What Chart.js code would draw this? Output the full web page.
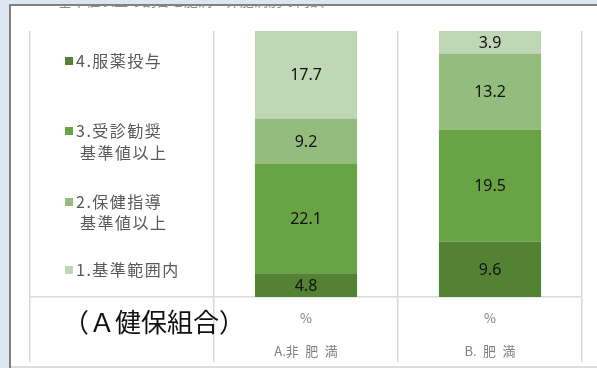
<!DOCTYPE html>
<html>
<head>
<meta charset="utf-8">
<script src="https://cdn.jsdelivr.net/npm/chart.js@4/dist/chart.umd.min.js"></script>
<style>
  html, body { margin: 0; padding: 0; width: 597px; height: 368px; overflow: hidden; background: #dce6f1; }
  #frame { position: absolute; left: 9px; top: 4px; width: 588px; height: 364px; background: #fff;
           border-top: 2px solid #808080; border-left: 2px solid #808080; box-sizing: border-box; }
  #header { position: absolute; left: 58px; top: 5px; width: 300px; height: 4px; overflow: hidden; }
  #header span { position: absolute; left: 0; top: -13px; font: 14px "Noto Sans CJK JP", sans-serif;
                 line-height: 16px; color: #8c8c8c; white-space: nowrap; }
  #wrap { position: absolute; left: 11px; top: 6px; width: 586px; height: 360px; }
  #rule { position: absolute; left: 11px; top: 366px; width: 586px; height: 2px; background: #dcdcdc; }
</style>
</head>
<body>
<div id="frame"></div>
<div id="header"><span>基準値以上の割合と肥満・非肥満別の内訳</span></div>
<div id="wrap"><canvas id="chart"></canvas></div>
<div id="rule"></div>
<script>
// Categories: the first column holds the legend, the other two hold the bars
const categories = ['', ['%', 'A.非\u2002肥\u2002満'], ['%', 'B.\u2002肥\u2002満']];

// Series, stacked bottom to top
const seriesNames = ['4.服薬投与', '3.受診勧奨\n基準値以上', '2.保健指導\n基準値以上', '1.基準範囲内'];
const seriesColors = ['#548235', '#69a444', '#93bc7d', '#bfd7b4'];

// Percentages per group
const valuesA = [4.8, 22.1, 9.2, 17.7];   // A.非肥満
const valuesB = [9.6, 19.5, 13.2, 3.9];   // B. 肥満

const groupTitle = '（Ａ健保組合）';

const sum = arr => arr.reduce((s, v) => s + v, 0);

const datasets = [];
seriesNames.forEach((name, k) => {
  datasets.push({ label: name, data: [null, valuesA[k], null], yAxisID: 'yA',
                  backgroundColor: seriesColors[k], stack: 's' });
  datasets.push({ label: name, data: [null, null, valuesB[k]], yAxisID: 'yB',
                  backgroundColor: seriesColors[k], stack: 's' });
});

// Value labels centred in each segment
const valueLabels = {
  id: 'valueLabels',
  afterDatasetsDraw(chart) {
    const ctx = chart.ctx;
    ctx.save();
    ctx.font = '16px "Noto Sans", sans-serif';
    ctx.fillStyle = '#111111';
    ctx.textAlign = 'center';
    ctx.textBaseline = 'middle';
    chart.data.datasets.forEach((ds, i) => {
      const meta = chart.getDatasetMeta(i);
      meta.data.forEach((el, j) => {
        const v = ds.data[j];
        if (v === null || v === undefined) return;
        ctx.fillText(v.toFixed(1), el.x, (el.y + el.base) / 2 + 1);
      });
    });
    ctx.restore();
  }
};

// Legend and group title in the first column
const sideText = {
  id: 'sideText',
  afterDraw(chart) {
    const ctx = chart.ctx;
    const area = chart.chartArea;
    ctx.save();

    // legend, top item is the top of the stack
    const rows = [[30], [100, 122], [171, 192], [239]];
    ctx.font = '16px "Noto Sans CJK JP", sans-serif';
    ctx.textAlign = 'left';
    ctx.textBaseline = 'middle';
    try { ctx.letterSpacing = '1.5px'; } catch (e) {}
    seriesNames.forEach((name, k) => {
      const lines = name.split('\n');
      const ys = rows[k];
      const y0 = area.top + ys[0];
      ctx.fillStyle = seriesColors[k];
      ctx.fillRect(area.left + 35, y0 - 4, 8, 8);
      ctx.fillStyle = '#595959';
      lines.forEach((line, li) => {
        ctx.fillText(line, area.left + (li === 0 ? 46 : 50), area.top + ys[li]);
      });
    });

    // group title under the legend
    try { ctx.letterSpacing = '0px'; } catch (e) {}
    ctx.font = '26px "Noto Sans CJK JP", sans-serif';
    ctx.fillStyle = '#111111';
    ctx.textBaseline = 'middle';
    ctx.fillText(groupTitle, area.left + 33, area.bottom + 25);
    ctx.restore();
  }
};

new Chart(document.getElementById('chart'), {
  type: 'bar',
  data: { labels: categories, datasets },
  options: {
    responsive: true,
    maintainAspectRatio: false,
    animation: false,
    layout: { padding: { top: 25, left: 19, right: 15, bottom: 0 } },
    datasets: { bar: { barPercentage: 0.555, categoryPercentage: 1, borderWidth: 0 } },
    plugins: { legend: { display: false }, tooltip: { enabled: false } },
    scales: {
      x: {
        stacked: true,
        offset: true,
        grid: { offset: true, color: '#d9d9d9', lineWidth: 1.5, drawTicks: true, tickLength: 65 },
        border: { display: true, color: '#d9d9d9', width: 1.5 },
        ticks: {
          padding: -60,
          color: '#7f7f7f',
          font: { family: '"Noto Sans CJK JP", sans-serif', size: 13, lineHeight: 2.5 },
          maxRotation: 0,
          autoSkip: false
        },
        afterFit(scale) { scale.height = 69; }
      },
      yA: { type: 'linear', stacked: true, display: false, min: 0, max: sum(valuesA) },
      yB: { type: 'linear', stacked: true, display: false, min: 0, max: sum(valuesB) }
    }
  },
  plugins: [valueLabels, sideText]
});
</script>
</body>
</html>
